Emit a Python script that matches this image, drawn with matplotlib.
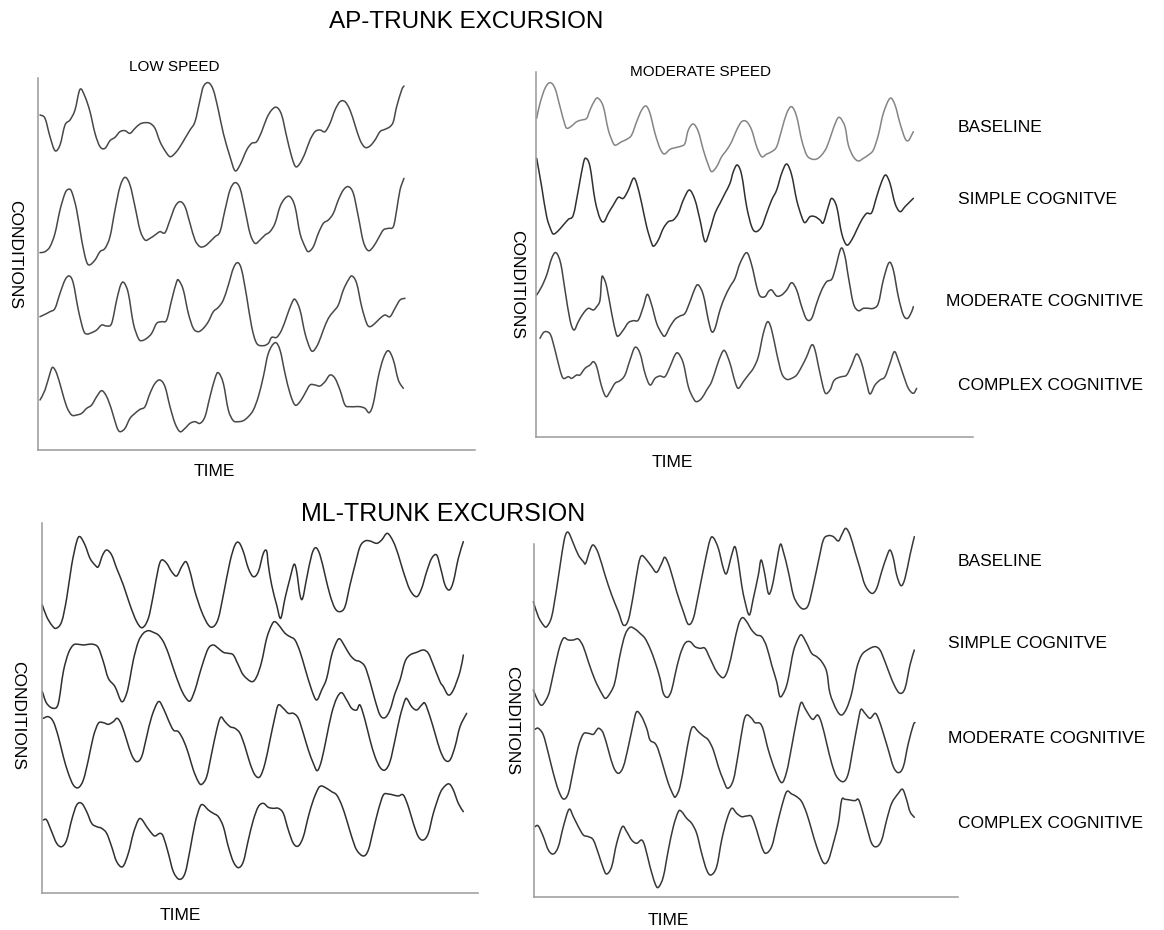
import numpy as np
import matplotlib
matplotlib.use("Agg")
import matplotlib.pyplot as plt
from matplotlib.path import Path
from matplotlib.patches import PathPatch

plt.rcParams['font.family'] = ['Liberation Sans', 'DejaVu Sans']

CONDITIONS = ["BASELINE", "SIMPLE COGNITVE", "MODERATE COGNITIVE", "COMPLEX COGNITIVE"]
TITLES = ["AP-TRUNK EXCURSION", "ML-TRUNK EXCURSION"]
SPEEDS = ["LOW SPEED", "MODERATE SPEED"]

# ---- trace samples: (time, level) with level read downward ----
AP_LOW_BASELINE = [(30,165),(45,175),(60,230),(75,272),(90,255),(105,195),(120,180),(135,150),(150,88),(165,110),(180,155),(195,220),(210,260),(225,265),(240,242),(255,232),(270,215),(285,212),(300,220),(315,205),(330,192),(345,188),(360,190),(375,205),(390,245),(405,272),(420,290),(435,280),(450,260),(465,235),(480,210),(495,185),(510,120),(520,80),(535,68),(550,90),(565,150),(580,220),(600,290),(615,332),(630,315),(650,270),(665,250),(680,245),(695,215),(710,175),(725,150),(740,142),(755,165),(770,230),(785,290),(797,320),(810,310),(825,280),(840,240),(855,215),(870,210),(885,215),(900,190),(915,150),(930,125),(945,125),(960,150),(975,195),(990,240),(1005,262),(1020,258),(1035,240),(1050,215),(1065,208),(1080,200),(1090,185),(1100,140),(1115,90),(1122,78)]
AP_LOW_SIMPLE = [(30,578),(45,575),(60,560),(75,520),(90,450),(105,400),(115,388),(125,395),(140,450),(155,540),(168,600),(178,615),(195,600),(210,575),(225,565),(240,530),(255,450),(270,380),(285,352),(300,375),(315,440),(330,510),(345,540),(360,535),(375,525),(390,515),(405,518),(420,480),(435,440),(450,425),(465,440),(480,490),(495,540),(510,560),(525,558),(540,545),(555,530),(570,515),(585,450),(600,390),(615,368),(630,385),(645,450),(660,520),(675,550),(690,540),(705,525),(720,515),(735,490),(750,440),(765,415),(780,410),(795,440),(810,520),(825,560),(835,575),(850,560),(865,520),(880,490),(895,480),(910,460),(925,420),(940,390),(955,380),(970,400),(985,470),(1000,545),(1015,572),(1030,560),(1045,535),(1060,510),(1075,505),(1090,500),(1100,450),(1110,390),(1122,355)]
AP_LOW_MODERATE = [(30,200),(45,193),(60,185),(75,175),(90,130),(105,90),(118,78),(130,100),(145,180),(160,240),(170,252),(185,248),(200,240),(215,225),(230,228),(245,220),(260,150),(272,105),(282,98),(295,130),(310,220),(325,265),(335,272),(350,265),(365,250),(380,220),(395,215),(410,210),(425,150),(440,95),(447,92),(460,120),(475,190),(490,235),(505,245),(520,235),(535,215),(550,185),(565,172),(580,150),(595,105),(610,55),(623,38),(635,60),(650,140),(665,230),(680,280),(700,287),(715,280),(725,262),(740,262),(755,240),(770,200),(785,160),(795,148),(810,180),(825,250),(840,295),(850,303),(865,280),(880,240),(895,205),(910,185),(925,165),(940,120),(955,90),(966,78),(980,100),(995,170),(1010,220),(1020,230),(1035,220),(1050,205),(1065,195),(1080,200),(1095,175),(1110,150),(1125,145)]
AP_LOW_COMPLEX = [(30,450),(45,420),(60,370),(68,352),(80,370),(95,420),(110,470),(125,495),(140,495),(155,490),(170,475),(185,465),(200,440),(215,422),(230,440),(245,480),(260,530),(270,545),(285,535),(300,505),(315,490),(330,478),(345,470),(360,430),(375,400),(390,390),(405,410),(420,470),(435,520),(450,545),(465,535),(480,520),(495,515),(510,520),(525,500),(540,440),(555,385),(565,368),(580,400),(595,480),(610,512),(625,515),(640,512),(655,500),(670,480),(685,440),(700,380),(715,310),(735,278),(750,300),(765,370),(780,430),(795,465),(810,455),(825,430),(840,405),(855,405),(870,408),(885,395),(900,375),(915,385),(930,420),(945,465),(960,470),(975,470),(990,470),(1005,475),(1018,488),(1030,460),(1045,380),(1060,325),(1075,302),(1090,330),(1105,390),(1120,415)]

AP_MOD_BASELINE = [(20,175),(30,130),(45,85),(60,68),(75,85),(90,140),(105,195),(112,205),(125,198),(140,185),(155,180),(170,175),(180,150),(195,120),(205,115),(220,140),(235,210),(250,250),(258,255),(275,245),(290,238),(305,225),(320,185),(335,150),(348,138),(360,160),(375,220),(390,265),(403,282),(420,268),(440,262),(455,258),(465,250),(475,210),(490,192),(505,215),(520,270),(535,315),(545,335),(560,320),(575,290),(590,270),(605,245),(620,210),(635,185),(650,185),(665,210),(680,260),(695,290),(710,282),(725,275),(740,260),(755,210),(770,160),(785,140),(800,170),(815,240),(830,285),(845,297),(860,297),(875,285),(890,262),(905,220),(920,180),(930,173),(945,200),(955,255),(970,290),(985,303),(1000,295),(1015,285),(1030,270),(1045,225),(1060,160),(1080,115),(1095,135),(1110,190),(1125,235),(1135,242),(1145,225),(1150,215)]
AP_MOD_SIMPLE = [(20,295),(35,380),(50,470),(65,515),(72,522),(85,512),(100,495),(115,478),(130,465),(145,390),(160,310),(168,295),(180,320),(195,420),(210,475),(222,485),(235,460),(250,435),(265,412),(280,415),(295,390),(310,355),(320,370),(335,430),(350,500),(365,550),(372,558),(385,540),(400,505),(415,485),(430,480),(445,460),(460,420),(478,390),(495,420),(510,480),(525,545),(540,510),(555,460),(570,430),(585,400),(600,370),(610,335),(622,315),(635,345),(650,440),(665,500),(678,515),(695,500),(710,460),(725,420),(740,390),(755,340),(770,312),(785,345),(800,420),(815,470),(825,488),(840,470),(855,470),(870,480),(880,488),(895,440),(905,415),(920,440),(935,520),(950,555),(965,540),(980,510),(995,480),(1010,460),(1025,458),(1040,410),(1055,365),(1067,345),(1080,370),(1095,430),(1110,455),(1125,440),(1140,425),(1150,415)]
AP_MOD_MODERATE = [(20,135),(35,110),(50,75),(65,25),(78,8),(92,40),(105,120),(120,210),(132,240),(145,215),(160,190),(175,175),(190,180),(200,170),(210,150),(215,85),(220,82),(230,110),(245,190),(258,250),(265,258),(280,240),(295,218),(310,212),(325,210),(340,170),(352,133),(365,165),(380,220),(395,250),(405,258),(420,230),(435,208),(450,198),(465,190),(480,155),(495,115),(505,105),(520,135),(535,210),(545,245),(555,235),(570,180),(585,140),(600,110),(615,85),(630,40),(650,8),(665,45),(680,110),(690,138),(705,140),(715,125),(725,120),(740,138),(755,135),(770,120),(785,98),(800,120),(815,170),(830,208),(845,205),(860,160),(875,120),(890,95),(905,88),(915,60),(933,-5),(945,20),(955,80),(970,160),(985,182),(1000,175),(1015,175),(1030,175),(1045,160),(1060,90),(1077,38),(1090,60),(1105,140),(1120,195),(1133,205),(1145,185),(1150,170)]
AP_MOD_COMPLEX = [(30,265),(40,248),(50,245),(62,255),(75,300),(90,360),(100,385),(115,380),(125,385),(140,375),(150,375),(165,355),(180,345),(190,335),(200,350),(215,410),(228,440),(240,425),(255,400),(270,392),(285,375),(300,330),(315,292),(330,310),(345,370),(360,405),(375,385),(390,378),(405,380),(420,350),(435,315),(445,310),(460,340),(475,410),(490,445),(500,455),(515,445),(530,420),(545,395),(560,350),(575,310),(585,303),(600,340),(615,395),(625,415),(640,395),(655,375),(670,355),(685,320),(700,250),(713,215),(725,240),(740,310),(755,370),(770,388),(785,385),(800,375),(815,350),(830,320),(845,285),(855,300),(870,370),(885,428),(900,420),(910,395),(920,385),(935,380),(950,375),(965,345),(980,312),(995,340),(1010,400),(1020,432),(1035,405),(1050,390),(1065,380),(1080,340),(1093,305),(1105,330),(1120,375),(1135,415),(1150,430),(1160,415)]

ML_LOW_BASELINE = [(37,420),(50,455),(65,480),(78,490),(95,470),(110,400),(125,300),(140,230),(150,215),(165,240),(180,280),(195,300),(205,305),(218,270),(230,255),(245,270),(260,310),(280,360),(300,420),(320,470),(337,488),(355,460),(370,390),(385,310),(395,285),(410,295),(425,320),(440,333),(455,305),(468,290),(480,320),(495,380),(515,440),(535,480),(550,485),(565,460),(580,390),(600,290),(615,240),(627,233),(640,260),(655,310),(670,335),(685,320),(700,265),(710,258),(715,300),(725,360),(740,420),(752,460),(765,400),(780,340),(792,298),(800,320),(810,390),(818,400),(830,340),(845,270),(857,248),(870,270),(885,330),(900,390),(915,430),(930,440),(945,425),(960,360),(975,300),(990,245),(1005,228),(1020,228),(1040,235),(1055,225),(1072,205),(1090,230),(1105,270),(1120,320),(1140,375),(1160,395),(1175,370),(1190,320),(1205,280),(1220,270),(1232,310),(1245,360),(1258,375),(1270,350),(1285,280),(1300,230)]
ML_LOW_SIMPLE = [(37,680),(50,715),(70,730),(85,715),(100,620),(115,565),(130,540),(145,538),(160,540),(175,538),(190,538),(205,548),(220,590),(235,640),(255,665),(275,710),(290,685),(300,640),(310,585),(325,530),(340,505),(355,497),(370,502),(385,510),(400,530),(415,565),(430,610),(450,665),(465,695),(480,708),(495,675),(505,640),(520,590),(535,550),(550,540),(565,550),(580,562),(595,565),(610,570),(625,600),(640,630),(665,650),(680,635),(695,590),(710,520),(725,480),(735,470),(750,485),(765,505),(780,515),(795,525),(810,560),(825,610),(845,675),(860,705),(875,675),(890,640),(905,570),(920,530),(930,522),(945,545),(960,570),(975,585),(990,590),(1005,605),(1020,650),(1035,705),(1050,750),(1065,758),(1080,735),(1095,685),(1110,645),(1125,590),(1140,570),(1160,562),(1180,555),(1195,565),(1210,600),(1230,650),(1240,665),(1255,690),(1270,675),(1290,620),(1300,570)]
ML_LOW_MODERATE = [(40,115),(55,110),(70,125),(85,170),(100,230),(115,280),(130,315),(145,323),(160,300),(175,240),(190,170),(205,130),(220,128),(235,133),(250,125),(262,115),(275,135),(290,180),(305,225),(320,245),(335,230),(350,170),(365,110),(385,65),(400,85),(415,120),(430,150),(445,155),(460,180),(475,220),(490,270),(505,305),(515,313),(530,290),(545,220),(560,150),(572,112),(585,125),(600,140),(615,145),(630,160),(645,200),(660,250),(675,285),(690,290),(705,250),(720,180),(735,110),(745,75),(760,85),(775,100),(790,100),(805,115),(820,160),(835,210),(850,250),(862,272),(875,240),(890,170),(905,100),(920,55),(935,38),(950,60),(965,85),(980,90),(990,75),(1005,120),(1020,180),(1035,230),(1050,262),(1065,270),(1080,245),(1095,180),(1110,110),(1125,60),(1132,58),(1145,80),(1160,90),(1175,75),(1185,70),(1200,110),(1215,160),(1230,210),(1245,240),(1260,240),(1275,200),(1290,140),(1310,100)]
ML_LOW_COMPLEX = [(40,420),(50,420),(65,455),(80,490),(95,500),(110,480),(125,420),(140,375),(155,370),(170,395),(185,430),(200,440),(215,445),(230,460),(245,500),(260,545),(278,560),(295,520),(310,460),(325,420),(335,418),(350,440),(365,460),(375,468),(390,460),(400,470),(415,520),(430,575),(448,598),(465,580),(480,510),(495,430),(510,380),(520,375),(535,390),(550,400),(565,410),(580,440),(595,500),(610,545),(625,563),(640,545),(655,480),(670,420),(685,380),(700,370),(715,382),(730,385),(745,385),(760,400),(775,450),(790,490),(805,498),(820,470),(835,410),(850,360),(865,325),(875,318),(890,325),(905,335),(920,345),(935,375),(950,420),(965,470),(980,510),(1000,528),(1015,510),(1030,450),(1045,390),(1060,345),(1075,342),(1090,345),(1105,348),(1120,345),(1135,380),(1150,430),(1165,470),(1180,480),(1195,460),(1210,400),(1230,340),(1245,318),(1258,312),(1270,330),(1285,370),(1300,395)]

ML_MOD_BASELINE = [(25,410),(40,455),(55,480),(65,485),(80,455),(95,370),(110,270),(120,215),(130,202),(145,235),(160,270),(175,290),(182,295),(195,255),(205,240),(220,265),(240,330),(260,390),(280,440),(295,480),(310,465),(325,390),(340,300),(350,272),(365,285),(380,305),(395,322),(410,295),(420,277),(435,310),(455,380),(475,440),(490,478),(505,460),(520,390),(540,290),(555,225),(565,218),(580,250),(595,310),(605,325),(620,270),(630,245),(640,290),(650,360),(660,410),(673,450),(685,400),(700,330),(708,285),(718,320),(730,385),(740,370),(750,320),(765,240),(775,260),(790,320),(805,390),(820,420),(835,432),(850,420),(865,360),(880,290),(895,225),(910,212),(925,215),(940,228),(950,210),(962,190),(975,210),(990,260),(1005,310),(1020,360),(1040,385),(1055,370),(1070,320),(1085,275),(1095,255),(1105,280),(1115,330),(1128,362),(1140,340),(1155,270),(1168,215)]
ML_MOD_SIMPLE = [(25,675),(40,710),(52,720),(70,690),(80,650),(100,560),(115,520),(130,525),(145,525),(160,522),(175,545),(190,590),(210,645),(230,685),(242,700),(258,680),(270,650),(285,570),(300,510),(315,487),(330,492),(345,505),(360,520),(375,550),(390,590),(405,640),(415,685),(428,697),(440,675),(450,630),(465,570),(480,535),(495,530),(510,545),(525,550),(540,550),(555,580),(575,620),(595,638),(610,610),(625,545),(640,480),(652,458),(665,470),(680,495),(695,510),(710,515),(725,545),(740,600),(755,650),(765,695),(780,675),(790,640),(805,560),(820,520),(830,510),(845,535),(860,565),(875,575),(890,590),(905,620),(915,685),(935,735),(950,750),(965,730),(980,685),(995,610),(1010,570),(1030,553),(1050,545),(1065,555),(1080,590),(1095,630),(1110,665),(1125,685),(1140,670),(1155,600),(1168,555)]
ML_MOD_MODERATE = [(30,148),(40,145),(55,165),(70,220),(85,280),(100,330),(115,357),(130,340),(145,270),(160,200),(175,162),(190,160),(205,163),(215,150),(222,145),(235,160),(250,210),(265,260),(280,280),(295,260),(310,200),(325,130),(335,95),(350,110),(365,145),(375,180),(390,190),(400,210),(415,260),(430,310),(445,345),(452,350),(465,320),(480,240),(495,160),(505,140),(520,155),(535,168),(550,180),(565,210),(580,260),(595,300),(608,325),(625,300),(640,220),(655,130),(665,105),(680,115),(690,128),(705,130),(715,150),(730,210),(750,270),(770,308),(785,275),(800,200),(815,120),(828,68),(840,85),(855,110),(865,118),(878,105),(890,130),(905,190),(920,250),(935,290),(955,305),(970,280),(985,200),(1000,120),(1008,88),(1020,100),(1035,115),(1050,100),(1060,115),(1075,160),(1090,210),(1105,260),(1120,278),(1135,260),(1150,190),(1165,135),(1170,128)]
ML_MOD_COMPLEX = [(30,440),(40,438),(55,470),(70,510),(85,522),(100,500),(115,440),(132,388),(145,410),(160,440),(175,465),(190,470),(205,480),(220,520),(235,565),(245,582),(260,560),(275,490),(292,440),(305,455),(320,480),(335,490),(350,480),(360,500),(375,560),(390,610),(400,622),(415,590),(430,510),(445,440),(460,395),(470,395),(485,415),(500,430),(515,460),(530,520),(545,570),(558,585),(575,560),(590,480),(605,420),(620,385),(635,400),(650,410),(665,408),(680,410),(695,450),(710,500),(722,520),(740,500),(755,440),(770,380),(785,335),(800,342),(815,350),(830,365),(845,400),(860,450),(875,500),(895,548),(910,540),(925,490),(940,430),(950,360),(960,358),(975,360),(990,362),(1000,358),(1010,385),(1025,440),(1040,490),(1055,500),(1070,480),(1085,420),(1100,370),(1120,340),(1133,328),(1145,360),(1155,395),(1168,412)]

PANELS = [
    dict(traces=[AP_LOW_BASELINE, AP_LOW_SIMPLE, AP_LOW_MODERATE, AP_LOW_COMPLEX],
         shift=[0, 0, 570, 570], xlim=(24, 1335), ylim=(1170, 54),
         box=(38, 78, 475, 450), colors=['#484848'] * 4),
    dict(traces=[AP_MOD_BASELINE, AP_MOD_SIMPLE, AP_MOD_MODERATE, AP_MOD_COMPLEX],
         shift=[0, 0, 570, 570], xlim=(18, 1329), ylim=(1131, 36),
         box=(536, 72, 973, 437), colors=['#858585', '#303030', '#444444', '#4a4a4a']),
    dict(traces=[ML_LOW_BASELINE, ML_LOW_SIMPLE, ML_LOW_MODERATE, ML_LOW_COMPLEX],
         shift=[0, 0, 645, 645], xlim=(36, 1344), ylim=(1284, 174),
         box=(42, 523, 478, 893), colors=['#303030'] * 4),
    dict(traces=[ML_MOD_BASELINE, ML_MOD_SIMPLE, ML_MOD_MODERATE, ML_MOD_COMPLEX],
         shift=[0, 0, 645, 645], xlim=(27, 1299), ylim=(1296, 237),
         box=(534, 544, 958, 897), colors=['#383838'] * 4),
]

W, H = 1164, 930
fig = plt.figure(figsize=(W / 100, H / 100), dpi=100)


def smooth_path(x, y):
    pts = np.column_stack([x, y]).astype(float)
    n = len(pts)
    verts = [pts[0]]
    codes = [Path.MOVETO]
    for i in range(n - 1):
        p0 = pts[i - 1] if i > 0 else pts[i]
        p1 = pts[i]
        p2 = pts[i + 1]
        p3 = pts[i + 2] if i + 2 < n else pts[i + 1]
        verts += [p1 + (p2 - p0) / 6.0, p2 - (p3 - p1) / 6.0, p2]
        codes += [Path.CURVE4] * 3
    return Path(verts, codes)


def fx(px):
    return px / W


def fy(py):
    return 1 - py / H


for p in PANELS:
    x0, y0, x1, y1 = p['box']
    ax = fig.add_axes([fx(x0), fy(y1), (x1 - x0) / W, (y1 - y0) / H])
    ax.set_xlim(*p['xlim'])
    ax.set_ylim(*p['ylim'])
    for tr, sh, col in zip(p['traces'], p['shift'], p['colors']):
        t = np.array([a for a, b in tr], float)
        v = np.array([b for a, b in tr], float) + sh
        ax.add_patch(PathPatch(smooth_path(t, v), fill=False, edgecolor=col,
                               lw=1.1, clip_on=False, capstyle='round', joinstyle='round'))
    for s in ['top', 'right']:
        ax.spines[s].set_visible(False)
    for s in ['left', 'bottom']:
        ax.spines[s].set_color('#9a9a9a')
        ax.spines[s].set_linewidth(1.1)
    ax.set_xticks([])
    ax.set_yticks([])
    ax.patch.set_alpha(0)

# titles
fig.text(fx(466), fy(22), TITLES[0], ha='center', va='center', fontsize=17.5)
fig.text(fx(443), fy(514), TITLES[1], ha='center', va='center', fontsize=18)
fig.text(fx(174), fy(67), SPEEDS[0], ha='center', va='center', fontsize=11)
fig.text(fx(700), fy(72), SPEEDS[1], ha='center', va='center', fontsize=11)

# axis labels
for (x, y) in [(214, 471), (672, 462), (180, 915), (668, 920)]:
    fig.text(fx(x), fy(y), "TIME", ha='center', va='center', fontsize=12.5)
for (x, y) in [(15, 255), (517, 285), (18, 715), (512, 720)]:
    fig.text(fx(x), fy(y), "CONDITIONS", ha='center', va='center', fontsize=12.5, rotation=-90)

# condition labels
top_pos = [(958, 127), (958, 200), (946, 302), (958, 385)]
bot_pos = [(958, 562), (948, 643), (948, 738), (958, 823)]
for lab, (x, y) in zip(CONDITIONS, top_pos):
    fig.text(fx(x), fy(y), lab, ha='left', va='center', fontsize=12.5)
for lab, (x, y) in zip(CONDITIONS, bot_pos):
    fig.text(fx(x), fy(y), lab, ha='left', va='center', fontsize=12.5)

fig.savefig("out.png", dpi=100)
